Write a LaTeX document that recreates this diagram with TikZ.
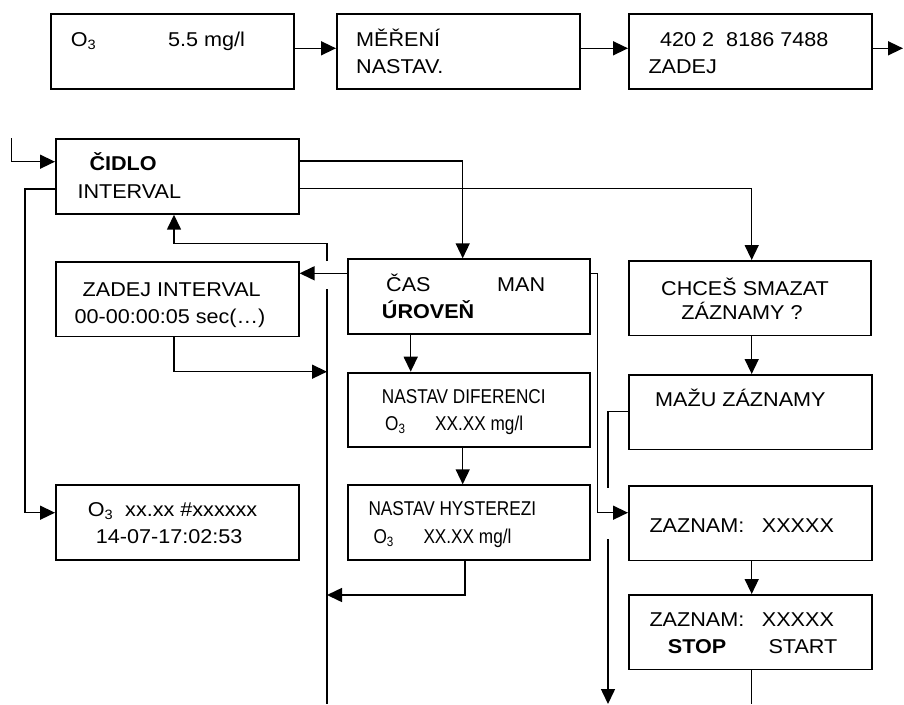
\documentclass[tikz,border=0pt]{standalone}
\usepackage{fontspec}
\setmainfont[FakeStretch=1.08]{Liberation Sans}
\newfontfamily\narrowfont[FakeStretch=0.86]{Liberation Sans}
\usetikzlibrary{arrows.meta}
\newcommand\Osub{O\raisebox{-3pt}{\fontsize{13.5}{13.5}\selectfont 3}}
\begin{document}
\begin{tikzpicture}[x=1pt,y=-1pt,
  box/.style={draw, line width=1.9pt, minimum width=242.7pt, minimum height=74.5pt, inner sep=0pt, anchor=north west},
  conn/.style={line width=1.5pt},
  arr/.style={conn, -{Triangle[length=15pt,width=14pt]}},
  txt/.style={anchor=base west, inner sep=0pt, font=\fontsize{20}{27}\selectfont},
  ctxt/.style={txt, anchor=base},
  btxt/.style={txt, font=\fontsize{20}{27}\selectfont\bfseries},
  ntxt/.style={anchor=base west, inner sep=0pt, font=\narrowfont\fontsize{20}{27}\selectfont},
]
\useasboundingbox (0,0) rectangle (904,704);

% boxes
\node[box] (b1) at (50,13.3) {};
\node[box] (b2) at (336,13.3) {};
\node[box] (b3) at (628,13.3) {};
\node[box] (cidlo) at (55,138.3) {};
\node[box] (zadej) at (55,261) {};
\node[box] (cas) at (346.7,258.3) {};
\node[box] (chces) at (627.7,260) {};
\node[box] (dif) at (346.7,371.7) {};
\node[box] (hys) at (346.7,484.3) {};
\node[box] (ozone) at (55,484.3) {};
\node[box] (mazu) at (628,374) {};
\node[box] (zaznam) at (628,485) {};
\node[box] (stop) at (628,594) {};

% texts
\node[txt] (t1a) at (70.7,46.7) {\Osub};
\node[txt] (t1b) at (168,46.7) {5.5 mg/l};
\node[txt] (t2a) at (356,46.7) {MĚŘENÍ};
\node[txt] (t2b) at (356,73.3) {NASTAV.};
\node[txt] (t3a) at (660,46.7) {420 2\ \ 8186 7488};
\node[txt] (t3b) at (648.3,73.3) {ZADEJ};

\node[btxt] (tc1) at (89.3,170) {ČIDLO};
\node[txt] (tc2) at (77.3,198.3) {INTERVAL};

\node[ctxt] (tz1) at (171.7,296.7) {ZADEJ INTERVAL};
\node[ctxt] (tz2) at (170,323.5) {00-00:00:05 sec(…)};

\node[txt] (ta1) at (386,291) {ČAS};
\node[txt] (ta2) at (497,291) {MAN};
\node[btxt] (ta3) at (381.7,318) {ÚROVEŇ};

\node[ctxt] (th1) at (745,295) {CHCEŠ SMAZAT};
\node[ctxt] (th2) at (742,319) {ZÁZNAMY ?};

\node[ntxt] (td1) at (381.7,403.3) {NASTAV DIFERENCI};
\node[ntxt] (td2) at (385,430.7) {\Osub};
\node[ntxt] (td3) at (435,430.7) {XX.XX mg/l};

\node[ntxt] (ty1) at (368.3,515.7) {NASTAV HYSTEREZI};
\node[ntxt] (ty2) at (373.3,543.3) {\Osub};
\node[ntxt] (ty3) at (423.3,543.3) {XX.XX mg/l};

\node[txt] (to1) at (87.7,516.7) {\Osub};
\node[txt] (to2) at (125,516.7) {xx.xx \#xxxxxx};
\node[txt] (to3) at (95.7,543.3) {14-07-17:02:53};

\node[txt] (tm1) at (655,406.7) {MAŽU ZÁZNAMY};

\node[txt] (tr1) at (649.3,532.7) {ZAZNAM:};
\node[txt] (tr2) at (761.7,532.7) {XXXXX};

\node[txt] (ts1) at (649.3,626.7) {ZAZNAM:};
\node[txt] (ts2) at (761.7,626.7) {XXXXX};
\node[btxt] (ts3) at (667.7,653.3) {STOP};
\node[txt] (ts4) at (768.3,653.3) {START};

% coordinates
\coordinate (out3) at (903,48.3);
\coordinate (in0) at (11.7,138.3);
\coordinate (hopA) at (327,261);
\coordinate (hopB) at (327,289);
\coordinate (endA) at (327,704);
\coordinate (hopC) at (608,487.7);
\coordinate (hopD) at (608,539.3);
\coordinate (endB) at (608,704);
\coordinate (endC) at (751.7,704);

% connectors
\draw[arr] (b1.east |- 0,48.3) -- (b2.west |- 0,48.3);
\draw[arr] (b2.east |- 0,48.3) -- (b3.west |- 0,48.3);
\draw[arr] (b3.east |- out3) -- (out3);

\draw[arr] (in0) |- (cidlo.west |- 0,161.7);
\draw[arr] (cidlo.east |- 0,161) -| (462.7,0 |- cas.north);
\draw[arr] (cidlo.east |- 0,188.5) -| (751.7,0 |- chces.north);
\draw[arr] (cidlo.west |- 0,189) -- (25,189) |- (ozone.west |- 0,512.7);

\draw[arr] (cas.west |- 0,273.3) -- (zadej.east |- 0,273.3);
\draw[arr] (hopA) -- (327,243.3) -| (174,0 |- cidlo.south);
\draw[conn] (hopB) -- (endA);
\draw[arr] (174,0 |- zadej.south) |- (327,371.7);

\draw[arr] (410.7,0 |- cas.south) -- (410.7,0 |- dif.north);
\draw[arr] (462.7,0 |- dif.south) -- (462.7,0 |- hys.north);
\draw[arr] (465,0 |- hys.south) |- (327,595);

\draw[arr] (cas.east |- 0,273.3) -- (597.7,273.3) |- (zaznam.west |- 0,512.7);

\draw[arr] (751.7,0 |- chces.south) -- (751.7,0 |- mazu.north);
\draw[conn] (mazu.west |- 0,411.7) -| (hopC);
\draw[arr] (hopD) -- (endB);
\draw[arr] (751.7,0 |- zaznam.south) -- (751.7,0 |- stop.north);
\draw[conn] (751.7,0 |- stop.south) -- (endC);
\end{tikzpicture}
\end{document}
